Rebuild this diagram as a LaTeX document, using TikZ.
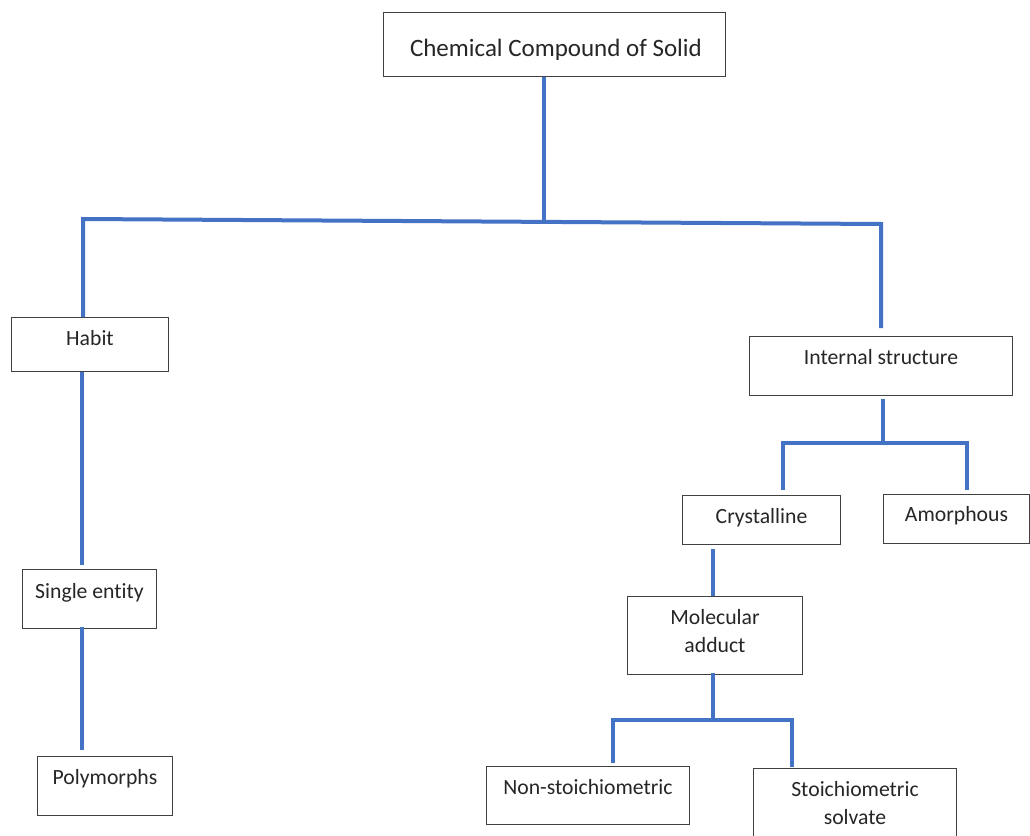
\documentclass[tikz,border=0pt]{standalone}
\usepackage{fontspec}
\setmainfont{Carlito}[Ligatures=NoCommon]
\newcommand{\bodyfnt}{\fontsize{21.7}{28}\selectfont}
\newcommand{\topfnt}{\fontsize{25}{30}\selectfont}
% \bt{width}{height}{first baseline from top}{text}
\newcommand{\bt}[4]{\parbox[t][#2pt][t]{#1pt}{\centering\rule{0pt}{#3pt}#4\par}}
\definecolor{wordblue}{HTML}{4472C4}
\definecolor{boxline}{HTML}{404040}
\tikzset{
  box/.style={draw=boxline, line width=1pt, inner sep=0pt, anchor=north west, font=\bodyfnt, text=black!85},
  conn/.style={draw=wordblue, line width=4pt, line join=miter},
}
\begin{document}
\begin{tikzpicture}[x=1pt,y=-1pt]
\useasboundingbox (0,0) rectangle (1030,835);
\clip (0,0) rectangle (1030,835);
\fill[white] (0,0) rectangle (1030,835);

% boxes
\node[box,font=\topfnt] (top) at (383,12) {\bt{342}{64}{44}{\hspace*{3pt}Chemical Compound of Solid}};
\node[box] (habit) at (11,317) {\bt{157}{54}{28}{Habit}};
\node[box] (internal) at (749,336) {\bt{263}{59}{28}{Internal structure}};
\node[box] (cryst) at (682,495) {\bt{158}{49}{28}{Crystalline}};
\node[box] (amorph) at (883,494) {\bt{146}{49}{27}{Amorphous}};
\node[box] (molec) at (627,596) {\bt{175}{78}{28}{Molecular\\adduct}};
\node[box] (nonst) at (486,766) {\bt{203}{58}{28}{Non-stoichiometric}};
\node[box] (stoich) at (753,768) {\bt{203}{72}{28}{Stoichiometric\\solvate}};
\node[box] (single) at (22,569) {\bt{134}{59}{29}{Single entity}};
\node[box] (poly) at (37,756) {\bt{135}{59}{28}{Polymorphs}};

% junction coordinates
\coordinate (jt) at (544,221);
\coordinate (jl) at (83,219);
\coordinate (jr) at (881,224);
\coordinate (ji) at (883,443);
\coordinate (jic) at (783,443);
\coordinate (jia) at (967,443);
\coordinate (jm) at (713,720);
\coordinate (jmn) at (613,720);
\coordinate (jms) at (792,720);
\coordinate (cl) at (82,0);

% connectors
\draw[conn] (top.south -| jt) -- (jt);
\draw[conn] (habit.north -| jl) -- (jl) -- (jr) -- ([yshift=8pt]internal.north -| jr);
\draw[conn] (habit.south -| cl) -- ([yshift=4pt]single.north -| cl);
\draw[conn] ([yshift=2pt]single.south -| cl) -- ([yshift=6pt]poly.north -| cl);
\draw[conn] ([yshift=-3pt]internal.south -| ji) -- (ji);
\draw[conn] ([yshift=5pt]cryst.north -| jic) -- (jic) -- (jia) -- ([yshift=4pt]amorph.north -| jia);
\draw[conn] ([yshift=-4pt]cryst.south -| jm) -- (molec.north -| jm);
\draw[conn] ([yshift=2pt]molec.south -| jm) -- (jm);
\draw[conn] ([yshift=3pt]nonst.north -| jmn) -- (jmn) -- (jms) -- ([yshift=1pt]stoich.north -| jms);
\end{tikzpicture}
\end{document}
